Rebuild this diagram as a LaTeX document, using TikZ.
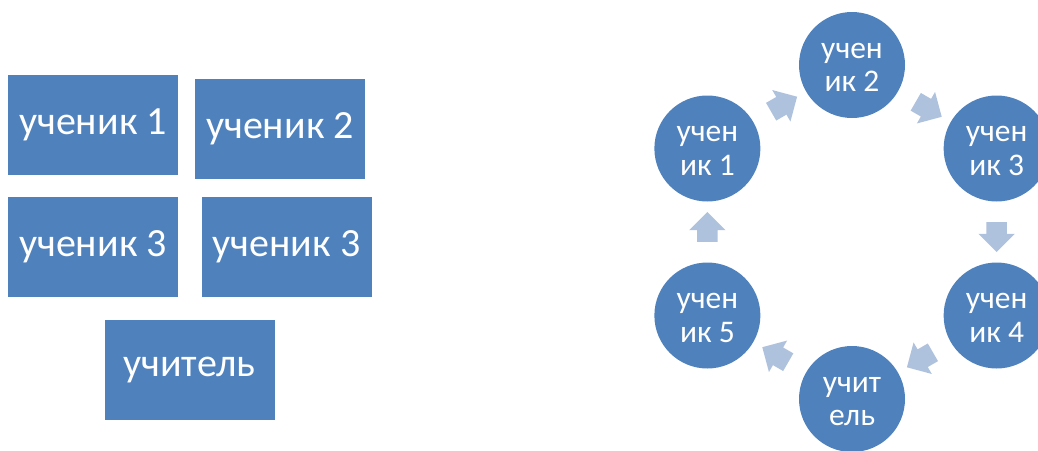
\documentclass[tikz,border=0pt]{standalone}
\usepackage{fontspec}
\setmainfont{Carlito}
\usetikzlibrary{shapes.arrows,calc}
\definecolor{boxblue}{HTML}{4F81BD}
\definecolor{arrowblue}{HTML}{AFC2DD}
\tikzset{
  box/.style={fill=boxblue, text=white, minimum width=170pt, minimum height=100pt, inner sep=0pt, font=\fontsize{40}{44}\selectfont},
  disc/.style={circle, fill=boxblue, minimum size=106pt, inner sep=0pt},
  disctext/.style={text=white, align=center, inner sep=0pt, yshift=-2.5pt, font=\fontsize{31.5}{33.5}\selectfont},
  cyc/.style={single arrow, fill=arrowblue, inner xsep=0pt, inner ysep=10pt, minimum height=30pt, single arrow head extend=8pt, single arrow tip angle=90}
}
\newcommand{\boxtext}[1]{\raisebox{-2.5pt}{#1}}
\begin{document}
\begin{tikzpicture}[x=1pt,y=1pt]
\useasboundingbox (0,0) rectangle (1038,-450);
\clip (0,0) rectangle (1038,-450);
% left boxes
\node[box] (b1) at (93,-125) {\boxtext{ученик 1}};
\node[box] (b2) at (280,-129) {\boxtext{ученик 2}};
\node[box] (b3) at (93,-246.5) {\boxtext{ученик 3}};
\node[box] (b4) at (286.5,-246.5) {\boxtext{ученик 3}};
\node[box] (b5) at (189.5,-370) {\boxtext{учитель}};
% cycle
\coordinate (o) at (852,-232);
\node[disc, label={[disctext]center:учен\\ик 1}] (c1) at ($(o)+(150:167)$) {};
\node[disc, label={[disctext]center:учен\\ик 2}] (c2) at ($(o)+(90:167)$) {};
\node[disc, label={[disctext]center:учен\\ик 3}] (c3) at ($(o)+(30:167)$) {};
\node[disc, label={[disctext]center:учен\\ик 4}] (c4) at ($(o)+(-30:167)$) {};
\node[disc, label={[disctext]center:учит\\ель}] (c6) at ($(o)+(-90:167)$) {};
\node[disc, label={[disctext]center:учен\\ик 5}] (c5) at ($(o)+(210:167)$) {};
\node[cyc, rotate=30] (a12) at ($(c1)!0.5!(c2)$) {};
\node[cyc, rotate=-30] (a23) at ($(c2)!0.5!(c3)$) {};
\node[cyc, rotate=-90] (a34) at ($(c3)!0.5!(c4)$) {};
\node[cyc, rotate=-150] (a46) at ($(c4)!0.5!(c6)$) {};
\node[cyc, rotate=150] (a65) at ($(c6)!0.5!(c5)$) {};
\node[cyc, rotate=90] (a51) at ($(c5)!0.5!(c1)$) {};
\end{tikzpicture}
\end{document}
